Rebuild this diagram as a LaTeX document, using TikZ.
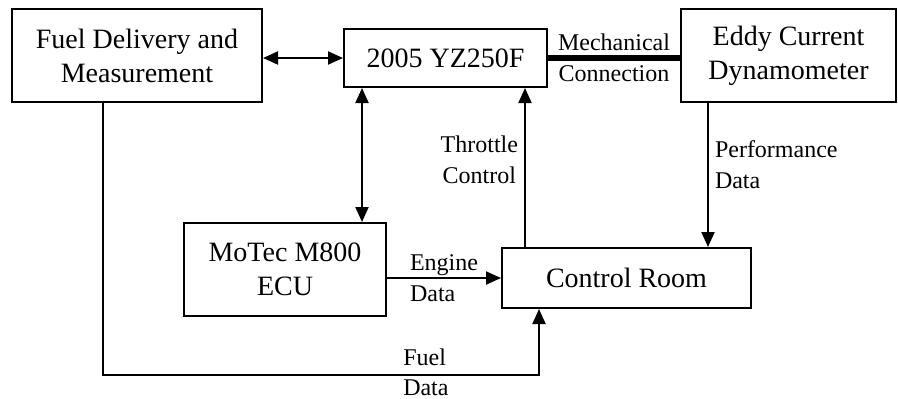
\documentclass[tikz,border=0pt]{standalone}
\usepackage{fontspec}
\setmainfont{Liberation Serif}
\usetikzlibrary{arrows.meta, calc}

\begin{document}
\begin{tikzpicture}[x=0.5pt, y=-0.5pt, line width=1pt, >={Triangle[length=7.5pt, width=6.5pt]},
  blk/.style={draw, align=center, inner sep=0pt, font=\fontsize{14}{17}\selectfont},
  lbl/.style={inner sep=3pt, font=\fontsize{12}{15.5}\selectfont}]
  \useasboundingbox (0,0) rectangle (898,398);
  \node[blk, minimum width=125pt, minimum height=46.5pt] (fuel) at (137,55.5) {Fuel Delivery and\\Measurement};
  \node[blk, minimum width=101.5pt, minimum height=29pt] (yz) at (445.5,58) {2005 YZ250F};
  \node[blk, minimum width=107.5pt, minimum height=46.5pt] (dyno) at (788.5,55.5) {Eddy Current\\Dynamometer};
  \node[blk, minimum width=101pt, minimum height=46.5pt] (ecu) at (285,269.5) {MoTec M800\\ECU};
  \node[blk, minimum width=124.5pt, minimum height=30pt] (ctrl) at (626.5,278) {Control Room};
  \coordinate (fuelTurn) at (104,375);

  \draw[<->] (yz.west -| fuel.east) -- (yz.west);
  \draw[line width=3pt] (yz.east) -- (yz.east -| dyno.west) node[midway, lbl, align=center] (mechLbl) {Mechanical\\Connection};
  \draw[<->] ([xshift=9.5pt]yz.south west) -- ([xshift=9.5pt]yz.south west |- ecu.north);
  \draw[->] ([xshift=12pt]ctrl.north west) -- ([xshift=12pt]ctrl.north west |- yz.south) node[pos=0.55, left, lbl, align=center] (thrLbl) {Throttle\\Control};
  \draw[->] ([xshift=14pt]dyno.south west) -- ([xshift=14pt]dyno.south west |- ctrl.north) node[pos=0.43, right, lbl, align=left] (perfLbl) {Performance\\Data};
  \draw[->] (ctrl.west -| ecu.east) -- (ctrl.west) node[midway, lbl, align=left] (engLbl) {Engine\\Data};
  \draw[->] ([xshift=46pt]fuel.south west) |- (fuelTurn) -| ([xshift=19pt]ctrl.south west) node[pos=0.37, lbl, align=left, yshift=1.5pt, font=\fontsize{12}{15}\selectfont] (fuelLbl) {Fuel\\Data};
\end{tikzpicture}
\end{document}
